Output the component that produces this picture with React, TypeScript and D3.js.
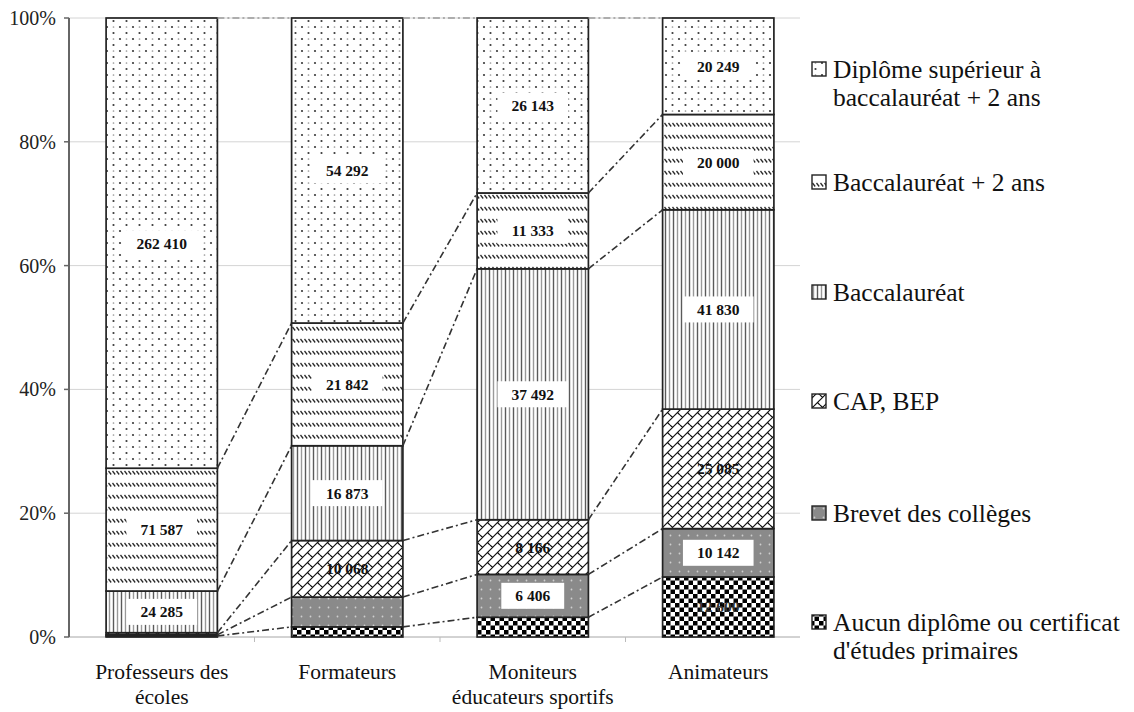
import React from "react";
import * as d3 from "d3";

const categories = ["Professeurs des écoles", "Formateurs", "Moniteurs éducateurs sportifs", "Animateurs"];
const categoryLines = [["Professeurs des", "écoles"], ["Formateurs"], ["Moniteurs", "éducateurs sportifs"], ["Animateurs"]];

const seriesKeys = ["aucun", "brevet", "cap", "bac", "bac2", "sup"];
const seriesLegend = [
  ["Aucun diplôme ou certificat", "d'études primaires"],
  ["Brevet des collèges"],
  ["CAP, BEP"],
  ["Baccalauréat"],
  ["Baccalauréat + 2 ans"],
  ["Diplôme supérieur à", "baccalauréat + 2 ans"],
];

const aucun = [600, 1800, 2950, 12600];
const brevet = [700, 5300, 6406, 10142];
const cap = [1200, 10068, 8166, 25085];
const bac = [24285, 16873, 37492, 41830];
const bac2 = [71587, 21842, 11333, 20000];
const sup = [262410, 54292, 26143, 20249];

// which value labels are displayed (per series, per category)
const labelShown = [
  [false, false, false, true],
  [false, false, true, true],
  [false, true, true, true],
  [true, true, true, true],
  [true, true, true, true],
  [true, true, true, true],
];
const labelBoxed = [false, true, false, true, true, true];

const yTicks = [0, 0.2, 0.4, 0.6, 0.8, 1];

const fmt = (v: number) => String(v).replace(/\B(?=(\d{3})+(?!\d))/g, " ");

const tf = { fontFamily: "Liberation Serif" } as React.CSSProperties;

export default function App() {
  const W = 1134, H = 712;
  const left = 69, right = 811, top = 18, bottom = 637;
  const values = [aucun, brevet, cap, bac, bac2, sup];
  const rows = categories.map((c, i) => {
    const r: any = { cat: c };
    seriesKeys.forEach((k, j) => (r[k] = values[j][i]));
    return r;
  });
  const stacked = d3.stack<any>().keys(seriesKeys).offset(d3.stackOffsetExpand)(rows);

  const x = d3.scaleBand().domain(categories).range([left, right]).paddingInner(0.4).paddingOuter(0.2);
  const y = d3.scaleLinear().domain([0, 1]).range([bottom, top]);
  const bw = x.bandwidth();
  const step = x.step();

  const fills = ["url(#pAucun)", "url(#pBrevet)", "url(#pCap)", "url(#pBac)", "url(#pBac2)", "url(#pSup)"];

  const labelFont = 15.5;
  const legendY = [636, 513, 401, 292, 182, 83];

  return (
    <svg width={W} height={H} style={{ position: "absolute", left: 0, top: 0, background: "#fff" }}>
      <defs>
        <pattern id="pSup" width="13" height="12" patternUnits="userSpaceOnUse">
          <rect width="13" height="12" fill="#fff" />
          <circle cx="3" cy="3" r="1.1" fill="#3a3a3a" />
          <circle cx="9.5" cy="9" r="1.1" fill="#3a3a3a" />
          <circle cx="9.5" cy="3" r="0.85" fill="#999" />
        </pattern>
        <pattern id="pBac2" width="4" height="12" patternUnits="userSpaceOnUse">
          <rect width="4" height="12" fill="#fff" />
          <path d="M0.5,3 L3.2,6.5" stroke="#2a2a2a" strokeWidth="1.25" />
        </pattern>
        <pattern id="pBac" width="8" height="8" patternUnits="userSpaceOnUse">
          <rect width="8" height="8" fill="#fff" />
          <line x1="1.5" y1="0" x2="1.5" y2="8" stroke="#5a5a5a" strokeWidth="1.4" />
          <line x1="5.5" y1="0" x2="5.5" y2="8" stroke="#999" strokeWidth="1.4" />
        </pattern>
        <pattern id="pCap" width="10" height="10" patternUnits="userSpaceOnUse">
          <rect width="10" height="10" fill="#fff" />
          <path d="M0,10 L10,0 M-2,2 L2,-2 M8,12 L12,8 M7.5,2.5 L10,5 M0,5 L2.5,7.5" stroke="#111" strokeWidth="1.2" />
        </pattern>
        <pattern id="pBrevet" width="9" height="9" patternUnits="userSpaceOnUse">
          <rect width="9" height="9" fill="#8a8a8a" />
          <circle cx="4.5" cy="4.5" r="0.9" fill="#cfcfcf" />
        </pattern>
        <pattern id="pAucun" width="9" height="9" patternUnits="userSpaceOnUse">
          <rect width="9" height="9" fill="#fff" />
          <rect x="0" y="0" width="4.5" height="4.5" fill="#000" />
          <rect x="4.5" y="4.5" width="4.5" height="4.5" fill="#000" />
        </pattern>
      </defs>

      {/* gridlines */}
      {yTicks.map((t) => (
        <line key={"g" + t} x1={left} x2={800} y1={y(t)} y2={y(t)} stroke="#d4d4d4" strokeWidth={1} />
      ))}

      {/* x axis */}
      <line x1={left} x2={800} y1={bottom} y2={bottom} stroke="#bbb" strokeWidth={1.2} />
      {categories.slice(0, -1).map((c) => {
        const tx = (x(c) as number) + bw + step * 0.2;
        return <line key={"xt" + c} x1={tx} x2={tx} y1={bottom} y2={bottom + 5} stroke="#bbb" strokeWidth={1} />;
      })}

      {/* y axis */}
      <line x1={left} x2={left} y1={top} y2={bottom} stroke="#666" strokeWidth={2} />
      {yTicks.map((t) => (
        <g key={"yt" + t}>
          <line x1={left - 5} x2={left} y1={y(t)} y2={y(t)} stroke="#666" strokeWidth={1.5} />
          <text x={56} y={y(t)} textAnchor="end" dominantBaseline="central" fontSize={20} fill="#222" style={tf}>
            {Math.round(t * 100) + "%"}
          </text>
        </g>
      ))}

      {/* bars */}
      {stacked.map((s, j) =>
        s.map((d, i) => {
          const cx = x(categories[i]) as number;
          return (
            <rect
              key={"b" + j + "_" + i}
              x={cx}
              y={y(d[1])}
              width={bw}
              height={y(d[0]) - y(d[1])}
              fill={fills[j]}
              stroke="#222"
              strokeWidth={1.7}
            />
          );
        })
      )}

      {/* connector lines */}
      {stacked.map((s, j) =>
        s.slice(0, -1).map((d, i) => {
          const x1 = (x(categories[i]) as number) + bw;
          const x2 = x(categories[i + 1]) as number;
          const n = s[i + 1];
          return (
            <line
              key={"c" + j + "_" + i}
              x1={x1}
              y1={y(d[1])}
              x2={x2}
              y2={y(n[1])}
              stroke={j === 5 ? "#999" : "#333"}
              strokeWidth={1.6}
              strokeDasharray="7,3,2,3"
            />
          );
        })
      )}

      {/* value labels */}
      {stacked.map((s, j) =>
        s.map((d, i) => {
          if (!labelShown[j][i]) return null;
          const cx = (x(categories[i]) as number) + bw / 2;
          const cy = (y(d[0]) + y(d[1])) / 2;
          const txt = fmt(values[j][i]);
          const digits = txt.replace(/ /g, "").length;
          const tw = labelFont * (0.5 * digits + 0.25 * (txt.length - digits));
          return (
            <g key={"l" + j + "_" + i}>
              {labelBoxed[j] && (
                <rect x={cx - tw / 2 - 14} y={cy - 13} width={tw + 28} height={26} fill="#fff" />
              )}
              <text x={cx} y={cy} textAnchor="middle" dominantBaseline="central" fontSize={labelFont} fontWeight="bold" fill={j === 0 ? "#333" : "#111"} style={tf}>
                {txt}
              </text>
            </g>
          );
        })
      )}

      {/* category labels */}
      {categories.map((c, i) => (
        <text key={"cat" + i} x={(x(c) as number) + bw / 2} textAnchor="middle" fontSize={21.5} fill="#111" style={tf}>
          {categoryLines[i].map((ln, k) => (
            <tspan key={k} x={(x(c) as number) + bw / 2} y={672 + k * 25} dominantBaseline="central">
              {ln}
            </tspan>
          ))}
        </text>
      ))}

      {/* legend */}
      {seriesLegend.map((lines, j) => {
        const ly = legendY[j];
        const firstY = ly - ((lines.length - 1) * 28) / 2;
        return (
          <g key={"lg" + j}>
            <rect x={812} y={firstY - 7} width={14} height={14} fill={fills[j]} stroke="#222" strokeWidth={1.4} />
            <text fontSize={25.5} fill="#111" style={tf}>
              {lines.map((ln, k) => (
                <tspan key={k} x={833} y={firstY + k * 28} dominantBaseline="central">
                  {ln}
                </tspan>
              ))}
            </text>
          </g>
        );
      })}
    </svg>
  );
}
